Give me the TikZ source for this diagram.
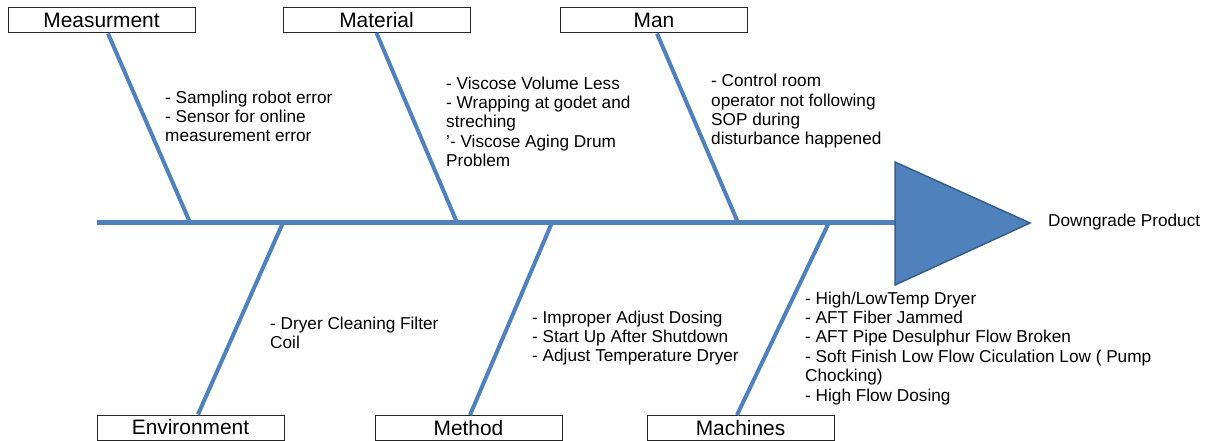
\documentclass[tikz,border=0pt]{standalone}
\usepackage{fontspec}
\setmainfont{Liberation Sans}
\usetikzlibrary{calc}
\definecolor{bonebl}{HTML}{4F81BD}
\definecolor{headbl}{HTML}{385D8A}

\begin{document}
\begin{tikzpicture}[x=1pt,y=-1pt,
  cat/.style={draw=black!85, line width=1pt, minimum width=187pt, minimum height=25pt, inner sep=0pt, font=\fontsize{20.9}{24}\selectfont},
  cause/.style={anchor=north west, align=left, inner sep=0pt, font=\fontsize{17.2}{19.4}\selectfont},
  bone/.style={bonebl, line width=4pt}]
\useasboundingbox (0,0) rectangle (1207,441);

% category boxes
\node[cat] (meas) at (101.5,20.5) {Measurment};
\node[cat] (matl) at (376.5,20) {Material};
\node[cat] (man) at (654,20.5) {Man};
\node[cat] (env) at (190.5,427.5) {Environment};
\node[cat] (meth) at (468.5,428) {Method};
\node[cat] (mach) at (740.5,428) {Machines};

% spine and head
\coordinate (tail) at (97,222.5);
\coordinate (neck) at (895,222.5);
\coordinate (tip) at (1030,223);
\draw[bonebl, line width=5pt] (tail) -- (neck);
\draw[headbl, line width=1.5pt, fill=bonebl] (895,162) -- (tip) -- (895,285) -- cycle;
\node[cause, anchor=west] (result) at (1048,222) {Downgrade Product};

% joints on the spine
\coordinate (j1) at (190,222.5);
\coordinate (j2) at (457,222.5);
\coordinate (j3) at (738,222.5);
\coordinate (j4) at (283,222.5);
\coordinate (j5) at (552,222.5);
\coordinate (j6) at (829,222.5);

\draw[bone] ([xshift=6.5]meas.south) -- (j1);
\draw[bone] (matl.south) -- (j2);
\draw[bone] ([xshift=3]man.south) -- (j3);
\draw[bone] ([xshift=7.5]env.north) -- (j4);
\draw[bone] ([xshift=1.5]meth.north) -- (j5);
\draw[bone] ([xshift=-3.5]mach.north) -- (j6);

% causes
\node[cause] (measc) at (165,90.5) {- Sampling robot error\\- Sensor for online\\measurement error};
\node[cause] (matlc) at (446,76.5) {- Viscose Volume Less\\- Wrapping at godet and\\streching\\'- Viscose Aging Drum\\Problem};
\node[cause] (manc) at (711,74) {- Control room\\operator not following\\SOP during\\disturbance happened};
\node[cause] (envc) at (270,316.5) {- Dryer Cleaning Filter\\Coil};
\node[cause] (methc) at (532,310.5) {- Improper Adjust Dosing\\- Start Up After Shutdown\\- Adjust Temperature Dryer};
\node[cause] (machc) at (805,291.5) {- High/LowTemp Dryer\\- AFT Fiber Jammed\\- AFT Pipe Desulphur Flow Broken\\- Soft Finish Low Flow Ciculation Low ( Pump\\Chocking)\\- High Flow Dosing};
\end{tikzpicture}
\end{document}
